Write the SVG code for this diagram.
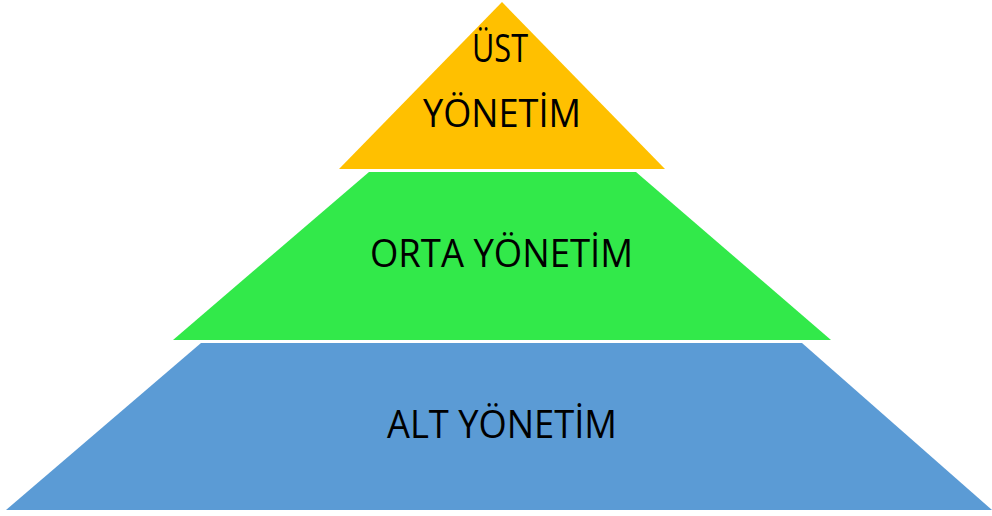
<svg xmlns="http://www.w3.org/2000/svg" width="992" height="516" viewBox="0 0 992 516">
<style>
.lbl{font-family:"Open Sans","Liberation Sans",sans-serif;font-size:38px;fill:#000;text-anchor:middle}
</style>
<rect width="992" height="516" fill="#fff"/>
<g id="ust">
<polygon points="502,2 665,169 339,169" fill="#FFC000"/>
<text class="lbl" x="500" y="62" textLength="56" lengthAdjust="spacingAndGlyphs">ÜST</text>
<text class="lbl" x="502" y="127" textLength="158" lengthAdjust="spacingAndGlyphs">YÖNETİM</text>
</g>
<g id="orta">
<polygon points="369,172 636,172 831,340 173,340" fill="#32E94A"/>
<text class="lbl" x="501.5" y="267" textLength="263" lengthAdjust="spacingAndGlyphs">ORTA YÖNETİM</text>
</g>
<g id="alt">
<polygon points="201,343 802,343 992,510 6,510" fill="#5B9BD5"/>
<text class="lbl" x="502" y="438" textLength="230" lengthAdjust="spacingAndGlyphs">ALT YÖNETİM</text>
</g>
<g id="connectors"/>
</svg>
